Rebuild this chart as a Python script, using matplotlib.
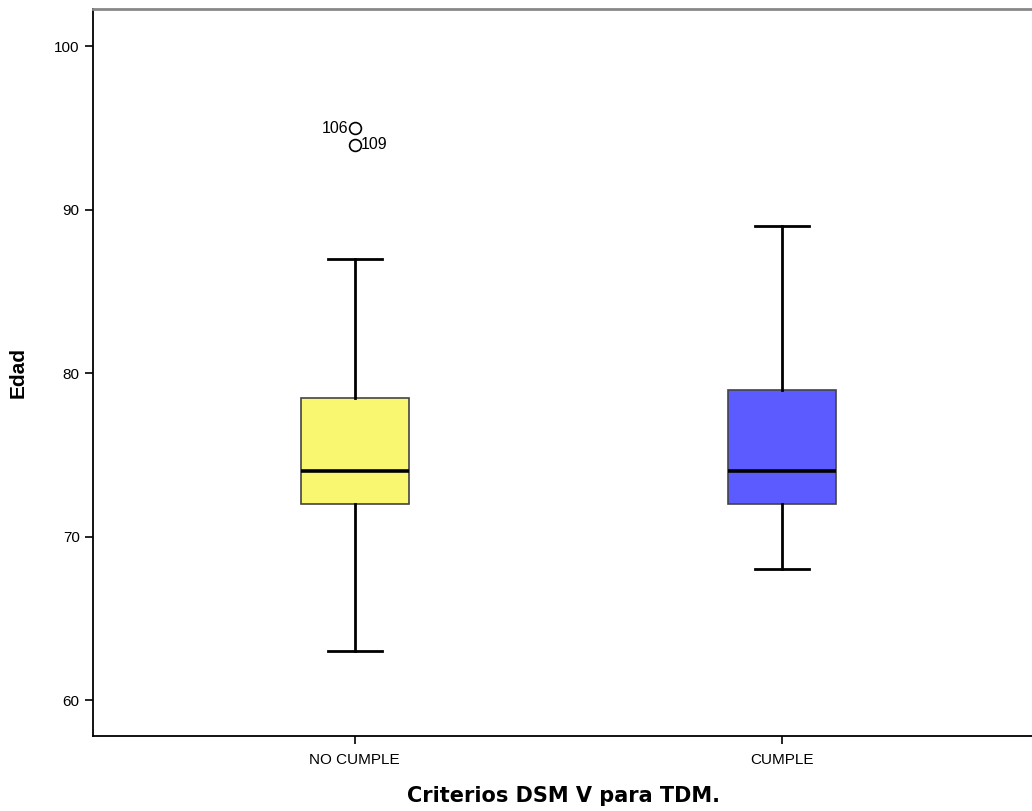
import matplotlib
matplotlib.use('Agg')
import matplotlib.pyplot as plt

# DATA
categorias = ['NO CUMPLE', 'CUMPLE']
q1 = [72, 72]
mediana = [74, 74]
q3 = [78.5, 79]
bigote_inf = [63, 68]
bigote_sup = [87, 89]
atipicos_valor = [95, 94]
atipicos_caso = ['106', '109']
atipicos_grupo = [0, 0]

colores = ['#f9f770', '#5b5bff']

fig = plt.figure(figsize=(10.32, 8.11), dpi=100)
ax = fig.add_axes([0.090, 0.0925, 0.912, 0.8965])

stats = []
for i in range(len(categorias)):
    stats.append({'label': categorias[i], 'q1': q1[i], 'med': mediana[i], 'q3': q3[i],
                  'whislo': bigote_inf[i], 'whishi': bigote_sup[i], 'fliers': []})

pos = [1, 2]
bp = ax.bxp(stats, positions=pos, widths=0.254, patch_artist=True, showfliers=False,
            boxprops=dict(edgecolor='#444444', linewidth=1.2),
            medianprops=dict(color='black', linewidth=2.6),
            whiskerprops=dict(color='black', linewidth=2),
            capprops=dict(color='black', linewidth=2),
            capwidths=0.127)
for caja, c in zip(bp['boxes'], colores):
    caja.set_facecolor(c)

# ATIPICOS
for val, caso, g in zip(atipicos_valor, atipicos_caso, atipicos_grupo):
    ax.plot(pos[g], val, marker='o', markersize=8.5, markerfacecolor='none',
            markeredgecolor='black', markeredgewidth=1.2)
for k, (val, caso, g) in enumerate(zip(atipicos_valor, atipicos_caso, atipicos_grupo)):
    if k == 0:
        ax.annotate(caso, (pos[g], val), xytext=(-4.5, 0), textcoords='offset points',
                    ha='right', va='center', fontsize=11.5, family='Liberation Sans')
    else:
        ax.annotate(caso, (pos[g], val), xytext=(4.5, 0), textcoords='offset points',
                    ha='left', va='center', fontsize=11.5, family='Liberation Sans')

ax.set_xlim(0.387, 2.59)
ax.set_ylim(57.8, 102.3)
ax.set_yticks([60, 70, 80, 90, 100])
ax.set_xticks(pos)
ax.set_xticklabels(categorias)

for lab in ax.get_xticklabels() + ax.get_yticklabels():
    lab.set_family('Liberation Sans')
    lab.set_fontsize(11)
ax.tick_params(axis='both', direction='out', length=6, width=1.2, color='black')
ax.tick_params(axis='x', pad=6)

ax.spines['right'].set_visible(False)
ax.spines['top'].set_color('#888888')
ax.spines['top'].set_linewidth(2)
ax.spines['left'].set_linewidth(1.3)
ax.spines['bottom'].set_linewidth(1.3)

ax.set_ylabel('Edad', fontsize=15, fontweight='bold', family='Liberation Sans', labelpad=19)
ax.set_xlabel('Criterios DSM V para TDM.', fontsize=15, fontweight='bold', family='DejaVu Sans', labelpad=14)

fig.savefig('out.png', dpi=100)
